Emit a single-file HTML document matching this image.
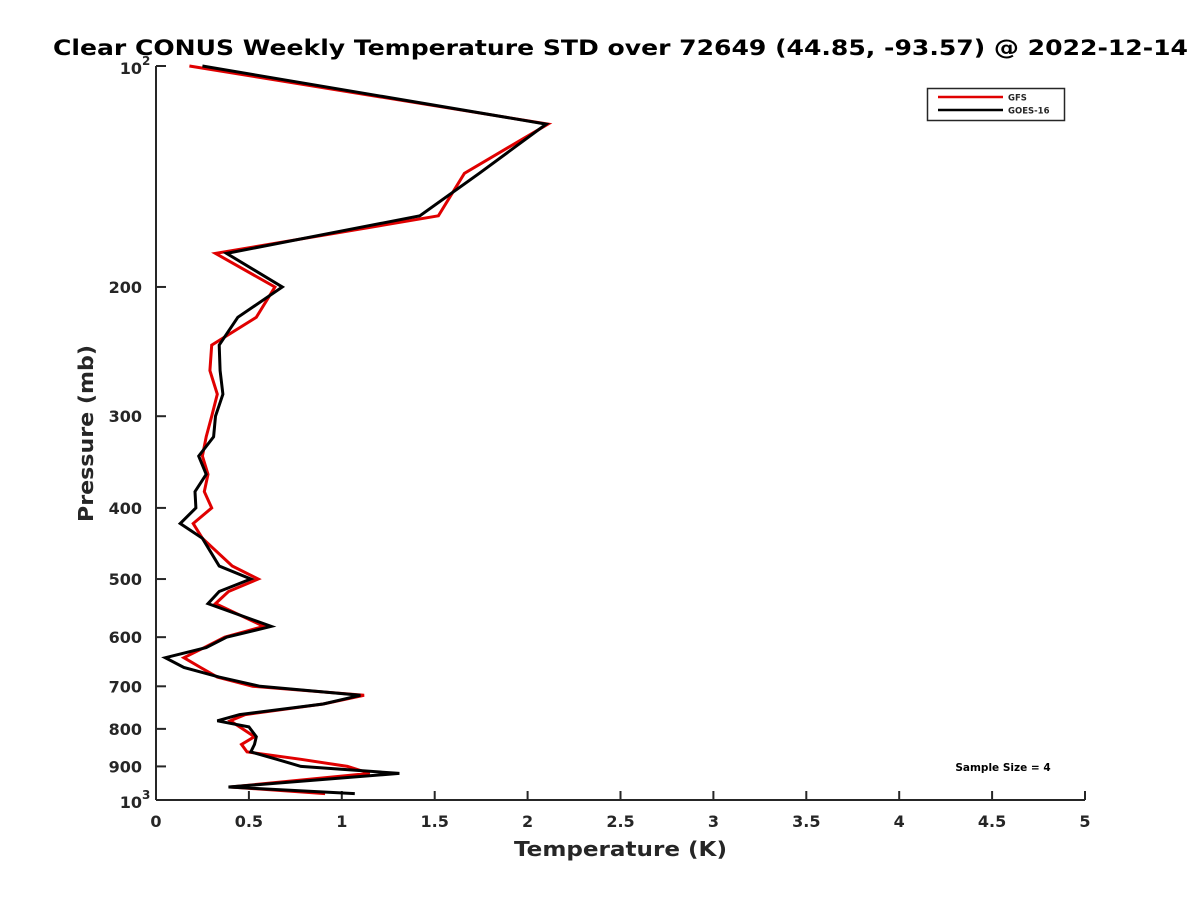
<!DOCTYPE html>
<html><head><meta charset="utf-8"><style>
body{margin:0;background:#fff}
svg text{font-family:"DejaVu Sans","Liberation Sans",sans-serif;font-weight:bold;fill:#262626}
</style></head><body>
<svg id="chart" width="1200" height="900" xmlns="http://www.w3.org/2000/svg">
<rect width="1200" height="900" fill="#fff"/>
<text x="53" y="55" textLength="1135" lengthAdjust="spacingAndGlyphs" font-size="21" style="fill:#000">Clear CONUS Weekly Temperature STD over 72649 (44.85, -93.57) @ 2022-12-14</text>
<g id="axes"></g>
<g id="series"></g>
<g>
<rect x="927.5" y="88.5" width="137" height="32" fill="#fff" stroke="#262626" stroke-width="1.5"/>
<line x1="938" y1="97" x2="1003" y2="97" stroke="#e00000" stroke-width="2.5"/>
<text x="1008" y="100.5" font-size="8.5">GFS</text>
<line x1="938" y1="110" x2="1003" y2="110" stroke="#000" stroke-width="2.5"/>
<text x="1008" y="113.5" font-size="8.5">GOES-16</text>
</g>
<text x="1003" y="771" text-anchor="middle" font-size="10.5" style="fill:#000">Sample Size = 4</text>
<text x="514" y="856" textLength="213" lengthAdjust="spacingAndGlyphs" font-size="20">Temperature (K)</text>
<text transform="translate(93,522) rotate(-90)" textLength="177" lengthAdjust="spacingAndGlyphs" font-size="20">Pressure (mb)</text>
</svg>
<script>
const pressures=[100,120,140,160,180,200,220,240,260,280,300,320,340,360,380,400,420,440,480,500,520,540,580,600,620,640,660,680,700,720,740,765,780,795,820,840,860,880,900,920,960,980];
const gfsValues=[0.18,2.11,1.66,1.52,0.32,0.64,0.54,0.30,0.29,0.33,0.30,0.27,0.25,0.28,0.26,0.30,0.20,0.25,0.41,0.55,0.39,0.32,0.58,0.37,0.26,0.15,0.24,0.33,0.52,1.12,0.90,0.48,0.40,0.45,0.53,0.46,0.49,0.78,1.03,1.15,0.40,0.91];
const goesValues=[0.25,2.10,1.74,1.42,0.38,0.68,0.44,0.34,0.345,0.36,0.32,0.31,0.23,0.27,0.21,0.215,0.13,0.25,0.34,0.51,0.34,0.28,0.62,0.38,0.27,0.05,0.15,0.34,0.56,1.10,0.90,0.45,0.33,0.50,0.54,0.53,0.51,0.65,0.78,1.31,0.39,1.07];
const xTicks=[0,0.5,1,1.5,2,2.5,3,3.5,4,4.5,5];
const yTicks=[200,300,400,500,600,700,800,900];
const X0=156,X1=1085,Y0=66,Y1=800;
const xs=v=>X0+(v/5)*(X1-X0);
const ys=p=>Y0+Math.log10(p/100)*(Y1-Y0);
const NS='http://www.w3.org/2000/svg';
const axes=document.getElementById('axes'),series=document.getElementById('series');
function mk(t,a,parent){const e=document.createElementNS(NS,t);for(const k in a)e.setAttribute(k,a[k]);parent.appendChild(e);return e;}
const yAxis=mk('line',{x1:X0,y1:Y0,x2:X0,y2:Y1,stroke:'#262626','stroke-width':2},axes);


const xAxis=mk('line',{x1:X0,y1:Y1,x2:X1,y2:Y1,stroke:'#262626','stroke-width':2},axes);


xTicks.forEach(v=>{
  mk('line',{x1:xs(v),y1:Y1,x2:xs(v),y2:Y1-9,stroke:'#262626','stroke-width':2},axes);
  const t=mk('text',{x:xs(v),y:Y1+27,'text-anchor':'middle','font-size':16},axes);
  t.textContent=String(v);
  
  
});
[100,1000].concat(yTicks).forEach(p=>{
  mk('line',{x1:X0,y1:ys(p),x2:X0+10,y2:ys(p),stroke:'#262626','stroke-width':2},axes);
});
yTicks.forEach(p=>{
  const t=mk('text',{x:X0-14,y:ys(p)+6,'text-anchor':'end','font-size':16},axes);
  t.textContent=String(p);
  
  
});
[[100,'2'],[1000,'3']].forEach(([p,e])=>{
  const t=mk('text',{x:X0-14,y:ys(p)+8,'text-anchor':'end','font-size':16},axes);
  t.textContent='10';
  
  
  const s=mk('text',{x:X0-14,y:ys(p)-1,'text-anchor':'start','font-size':12},axes);
  s.textContent=e;
  
  
});
function line(vals,color,name){
  const pts=vals.map((v,i)=>xs(v).toFixed(1)+','+ys(pressures[i]).toFixed(1)).join(' ');
  const pl=mk('polyline',{points:pts,fill:'none',stroke:color,'stroke-width':3,'stroke-linejoin':'miter'},series);
  
  
}
line(gfsValues,'#e00000','gfs-line');
line(goesValues,'#000000','goes16-line');
</script>
</body></html>
